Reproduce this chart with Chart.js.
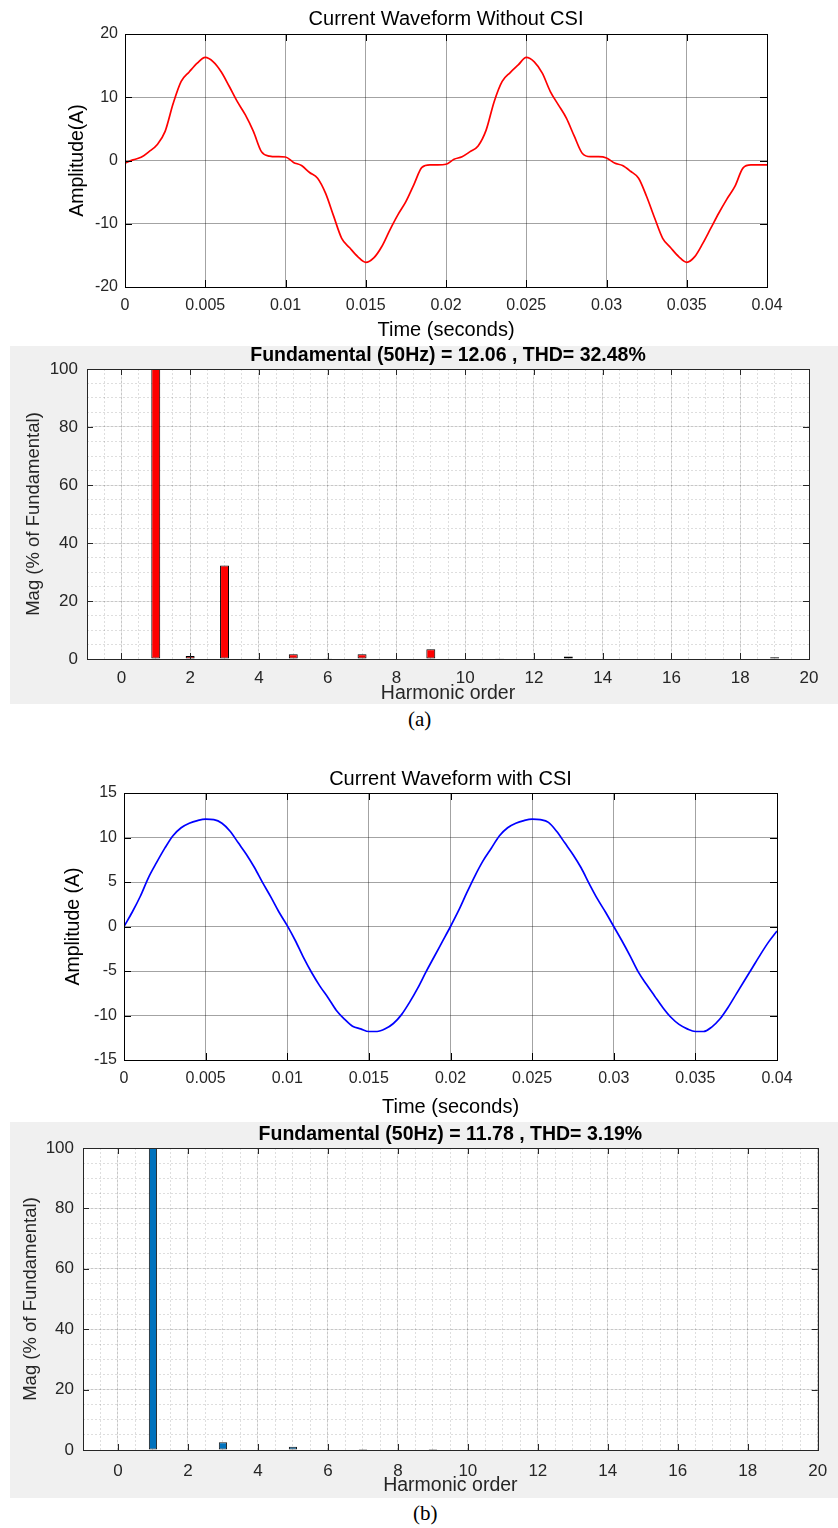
<!DOCTYPE html>
<html>
<head>
<meta charset="utf-8">
<title>Current waveforms and harmonic spectra</title>
<script src="https://cdn.jsdelivr.net/npm/chart.js@4.4.1/dist/chart.umd.min.js"></script>
<style>
  body { margin: 0; background: #fff; width: 838px; height: 1528px; position: relative; overflow: hidden; }
  canvas { position: absolute; }
  #waveA { left: 0; top: 0; }
  #specA { left: 10px; top: 346px; background: #f0f0f0; }
  #waveB { left: 0; top: 760px; }
  #specB { left: 10px; top: 1122px; background: #f0f0f0; }
  .cap { position: absolute; font-family: "Liberation Serif", "Times New Roman", serif; font-size: 21px; color: #000; }
</style>
</head>
<body>
<canvas id="waveA" width="838" height="340"></canvas>
<canvas id="specA" width="828" height="358"></canvas>
<div class="cap" style="left:408px; top:707px;">(a)</div>
<canvas id="waveB" width="838" height="360"></canvas>
<canvas id="specB" width="828" height="376"></canvas>
<div class="cap" style="left:413px; top:1501px;">(b)</div>

<script>
// sample times (s)
const timeValues = [
    0, 0.0005, 0.001, 0.0015, 0.002, 0.0025, 0.003, 0.0035, 0.004, 0.0045,
    0.005, 0.0055, 0.006, 0.0065, 0.007, 0.0075, 0.008, 0.0085, 0.009, 0.0095,
    0.01, 0.0105, 0.011, 0.0115, 0.012, 0.0125, 0.013, 0.0135, 0.014, 0.0145,
    0.015, 0.0155, 0.016, 0.0165, 0.017, 0.0175, 0.018, 0.0185, 0.019, 0.0195,
    0.02, 0.0205, 0.021, 0.0215, 0.022, 0.0225, 0.023, 0.0235, 0.024, 0.0245,
    0.025, 0.0255, 0.026, 0.0265, 0.027, 0.0275, 0.028, 0.0285, 0.029, 0.0295,
    0.03, 0.0305, 0.031, 0.0315, 0.032, 0.0325, 0.033, 0.0335, 0.034, 0.0345,
    0.035, 0.0355, 0.036, 0.0365, 0.037, 0.0375, 0.038, 0.0385, 0.039, 0.0395,
    0.04
];

// current without CSI (A)
const currentWithoutCsi = [
    -0.4, 0.1, 0.5, 1.4, 2.5, 4.6, 9.0, 12.5, 14.0, 15.4,
    16.3, 15.6, 14.0, 11.7, 9.3, 7.2, 4.6, 1.4, 0.7, 0.6,
    0.55, -0.3, -0.8, -1.9, -2.8, -5.2, -8.8, -12.3, -13.8, -15.2,
    -16.1, -15.4, -13.6, -11.0, -8.6, -6.5, -3.8, -1.1, -0.7, -0.7,
    -0.6, 0.2, 0.6, 1.4, 2.3, 4.8, 9.3, 12.5, 13.9, 15.1,
    16.3, 15.6, 13.8, 10.9, 8.8, 6.7, 3.8, 1.1, 0.6, 0.6,
    0.4, -0.4, -0.8, -1.7, -2.8, -5.7, -9.1, -12.3, -13.8, -15.2,
    -16.1, -15.2, -13.1, -10.7, -8.3, -6.1, -4.1, -1.2, -0.7, -0.7,
    -0.7
];

// current with CSI (A)
const currentWithCsi = [
    0, 1.6, 3.4, 5.5, 7.2, 8.8, 10.2, 11.1, 11.6, 11.9,
    12.06, 12.0, 11.6, 10.7, 9.4, 8.1, 6.6, 4.9, 3.3, 1.6,
    0.1, -1.6, -3.5, -5.2, -6.7, -8.0, -9.4, -10.4, -11.2, -11.5,
    -11.8, -11.8, -11.5, -10.9, -9.9, -8.5, -6.9, -5.1, -3.4, -1.7,
    0, 1.8, 3.8, 5.7, 7.4, 8.8, 10.2, 11.1, 11.6, 11.9,
    12.06, 12.0, 11.7, 10.7, 9.4, 8.1, 6.6, 4.8, 3.1, 1.6,
    0, -1.6, -3.3, -5.1, -6.5, -7.8, -9.1, -10.2, -11.0, -11.5,
    -11.8, -11.8, -11.3, -10.4, -9.1, -7.6, -6.1, -4.6, -3.1, -1.7,
    -0.5
];

// harmonic spectra (% of fundamental)
const harmonicOrders = [0, 1, 2, 3, 4, 5, 6, 7, 8, 9, 10, 11, 12, 13, 14, 15, 16, 17, 18, 19, 20];
const magWithoutCsi = [0, 100, 1.0, 32.2, 0, 1.6, 0.3, 1.6, 0, 3.4, 0, 0.3, 0, 0.9, 0, 0, 0, 0, 0, 0.6, 0];
const magWithCsi    = [0, 100, 0, 2.6, 0, 1.1, 0, 0.3, 0, 0.3, 0, 0, 0, 0, 0, 0, 0, 0, 0, 0, 0];

// tick labels
const timeTicks = [0, 0.005, 0.01, 0.015, 0.02, 0.025, 0.03, 0.035, 0.04];
const ampTicksA = [-20, -10, 0, 10, 20];
const ampTicksB = [-15, -10, -5, 0, 5, 10, 15];
const harmonicTicks = [0, 2, 4, 6, 8, 10, 12, 14, 16, 18, 20];
const magTicks = [0, 20, 40, 60, 80, 100];

Chart.defaults.font.family = '"Liberation Sans", Arial, Helvetica, sans-serif';
Chart.defaults.color = '#262626';
Chart.defaults.animation = false;

// white plot box, full frame and inward tick marks (matlab look)
const plotFrame = {
    id: 'plotFrame',
    beforeDraw(chart, args, opts) {
        if (!opts.fill) return;
        const a = chart.chartArea;
        chart.ctx.save();
        chart.ctx.fillStyle = opts.fill;
        chart.ctx.fillRect(a.left, a.top, a.width, a.height);
        chart.ctx.restore();
    },
    afterDraw(chart, args, opts) {
        const ctx = chart.ctx;
        const a = chart.chartArea;
        const x = chart.scales.x, y = chart.scales.y;
        const len = opts.tick || 6;
        ctx.save();
        ctx.strokeStyle = opts.color || '#000';
        ctx.lineWidth = 1;
        ctx.beginPath();
        x.ticks.forEach((t, i) => {
            const px = Math.round(x.getPixelForTick(i)) + 0.5;
            ctx.moveTo(px, a.bottom); ctx.lineTo(px, a.bottom - len);
            ctx.moveTo(px, a.top); ctx.lineTo(px, a.top + len);
        });
        y.ticks.forEach((t, i) => {
            const py = Math.round(y.getPixelForTick(i)) + 0.5;
            ctx.moveTo(a.left, py); ctx.lineTo(a.left + len, py);
            ctx.moveTo(a.right, py); ctx.lineTo(a.right - len, py);
        });
        ctx.stroke();
        ctx.strokeRect(Math.round(a.left) + 0.5, Math.round(a.top) + 0.5,
                       Math.round(a.width), Math.round(a.height));
        ctx.restore();
    }
};

function waveChart(id, values, color, cfg) {
    return new Chart(document.getElementById(id), {
        type: 'line',
        data: {
            datasets: [{
                data: timeValues.map((t, i) => ({x: t, y: values[i]})),
                borderColor: color,
                borderWidth: 1.7,
                pointRadius: 0,
                cubicInterpolationMode: 'monotone',
                fill: false
            }]
        },
        options: {
            responsive: false,
            layout: {padding: {left: 0, right: cfg.right, top: 0, bottom: 0}},
            plugins: {
                legend: {display: false},
                tooltip: {enabled: false},
                title: {
                    display: true, text: cfg.title, fullSize: false, color: '#000',
                    font: {size: 20, weight: 'normal', lineHeight: 1},
                    padding: cfg.titlePad
                },
                plotFrame: {color: '#000', tick: 7}
            },
            scales: {
                x: {
                    type: 'linear', min: 0, max: 0.04,
                    afterBuildTicks: s => { s.ticks = timeTicks.map(v => ({value: v})); },
                    afterFit: s => { s.height = cfg.xh; },
                    ticks: {
                        callback: v => String(+v.toFixed(3)),
                        font: {size: 16}, padding: 9.4, maxRotation: 0, autoSkip: false
                    },
                    grid: {color: 'rgba(0,0,0,0.36)', drawTicks: false},
                    border: {display: false},
                    title: {
                        display: true, text: 'Time (seconds)', color: '#000',
                        font: {size: 20, lineHeight: 1}, padding: {top: 0, bottom: cfg.xtPad}
                    }
                },
                y: {
                    type: 'linear', min: cfg.yTicks[0], max: cfg.yTicks[cfg.yTicks.length - 1],
                    afterBuildTicks: s => { s.ticks = cfg.yTicks.map(v => ({value: v})); },
                    afterFit: s => { s.width = cfg.yw; },
                    ticks: {font: {size: 16}, padding: 7},
                    grid: {color: 'rgba(0,0,0,0.36)', drawTicks: false},
                    border: {display: false},
                    title: {
                        display: true, text: cfg.ylabel, color: '#000',
                        font: {size: 19.5, lineHeight: 1}, padding: {top: cfg.ytPad, bottom: 0}
                    }
                }
            }
        },
        plugins: [plotFrame]
    });
}

function spectrumChart(id, mags, color, edge, cfg) {
    return new Chart(document.getElementById(id), {
        type: 'bar',
        data: {
            datasets: [{
                xAxisID: 'x',
                yAxisID: 'y',
                data: harmonicOrders.map((h, i) => ({x: h, y: mags[i]})),
                backgroundColor: color,
                borderColor: edge,
                borderWidth: c => (c.raw && c.raw.y > 0 ? 1 : 0),
                borderSkipped: false,
                barPercentage: cfg.barPct,
                categoryPercentage: 1
            }]
        },
        options: {
            responsive: false,
            layout: {padding: {left: 0, right: cfg.right, top: 0, bottom: 0}},
            plugins: {
                legend: {display: false},
                tooltip: {enabled: false},
                title: {
                    display: true, text: cfg.title, fullSize: false, color: '#000',
                    font: {size: 19.5, weight: 'bold', lineHeight: 1},
                    padding: cfg.titlePad
                },
                plotFrame: {fill: '#fff', color: '#262626', tick: 6}
            },
            scales: {
                x: {
                    type: 'linear', min: -1, max: 20, offset: false,
                    afterBuildTicks: s => { s.ticks = harmonicTicks.map(v => ({value: v})); },
                    afterFit: s => { s.height = cfg.xh; },
                    ticks: {font: {size: 17}, padding: cfg.xtickPad, maxRotation: 0, autoSkip: false},
                    grid: {color: 'rgba(0,0,0,0.1)', drawTicks: false, offset: false},
                    border: {display: false},
                    title: {
                        display: true, text: 'Harmonic order', color: '#262626',
                        font: {size: 19.5, lineHeight: 1}, padding: {top: 0, bottom: cfg.xtPad}
                    }
                },
                y: {
                    type: 'linear', min: 0, max: 100,
                    afterBuildTicks: s => { s.ticks = magTicks.map(v => ({value: v})); },
                    afterFit: s => { s.width = cfg.yw; },
                    ticks: {font: {size: 17}, padding: 9},
                    grid: {color: 'rgba(0,0,0,0.1)', drawTicks: false},
                    border: {display: false},
                    title: {
                        display: true, text: 'Mag (% of Fundamental)', color: '#262626',
                        font: {size: 18.5, lineHeight: 1}, padding: {top: cfg.ytPad, bottom: 0}
                    }
                },
                // dotted minor grid
                xm: {
                    type: 'linear', position: 'bottom', min: -1, max: 20, offset: false,
                    afterFit: s => { s.height = 0; },
                    ticks: {display: false, stepSize: 0.5},
                    grid: {color: 'rgba(0,0,0,0.13)', drawTicks: false, offset: false},
                    border: {display: false, dash: [2, 2]}
                },
                ym: {
                    type: 'linear', position: 'left', min: 0, max: 100,
                    afterFit: s => { s.width = 0; },
                    ticks: {display: false, stepSize: 5},
                    grid: {color: 'rgba(0,0,0,0.13)', drawTicks: false},
                    border: {display: false, dash: [2, 2]}
                }
            }
        },
        plugins: [plotFrame]
    });
}

waveChart('waveA', currentWithoutCsi, '#ff0000', {
    title: 'Current Waveform Without CSI', ylabel: 'Amplitude(A)', yTicks: ampTicksA,
    right: 71, yw: 125, xh: 53, titlePad: {top: 9, bottom: 5}, xtPad: 0, ytPad: 68
});

spectrumChart('specA', magWithoutCsi, '#ff0000', '#000000', {
    title: 'Fundamental (50Hz) = 12.06 , THD= 32.48%', barPct: 0.26,
    right: 29, yw: 77, xh: 45, titlePad: {top: 0, bottom: 3.5}, xtickPad: 8.8, xtPad: 0.3, ytPad: 15
});

waveChart('waveB', currentWithCsi, '#0000ff', {
    title: 'Current Waveform with CSI', ylabel: 'Amplitude (A)', yTicks: ampTicksB,
    right: 61, yw: 124, xh: 60, titlePad: {top: 9, bottom: 4}, xtPad: 3, ytPad: 64
});

spectrumChart('specB', magWithCsi, '#0072bd', '#1a1a1a', {
    title: 'Fundamental (50Hz) = 11.78 , THD= 3.19%', barPct: 0.235,
    right: 12, yw: 73, xh: 48, titlePad: {top: 2.5, bottom: 4}, xtickPad: 10.8, xtPad: 2.3, ytPad: 12
});
</script>
</body>
</html>
